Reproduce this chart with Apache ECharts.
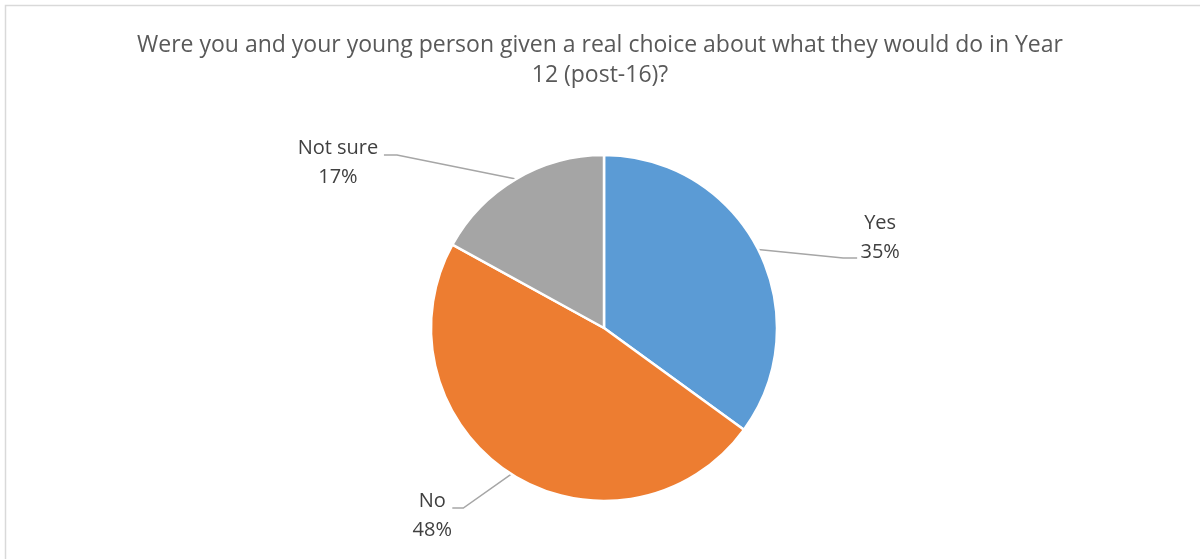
<!DOCTYPE html>
<html>
<head>
<meta charset="utf-8">
<script src="https://cdn.jsdelivr.net/npm/echarts@6/dist/echarts.min.js"></script>
<style>
  html, body { margin: 0; padding: 0; background: #ffffff; }
  #chart { width: 1200px; height: 559px; }
</style>
</head>
<body>
<div id="chart"></div>
<script>
// Survey answers, in drawing order (clockwise from 12 o'clock)
const categories = ['Yes', 'No', 'Not sure'];
const shares = [35, 48, 17];
const sliceColors = ['#5B9BD5', '#ED7D31', '#A5A5A5'];

const titleText = 'Were you and your young person given a real choice about what they would do in Year\n12 (post-16)?';

// Pie geometry
const pieCenter = [604, 328];
const pieRadius = 173;

// Label placement, relative to the outer mid-point of each slice:
// text = centre of the label block, line = the two leader-line bends
const labelOffsets = [
  { text: [122, -12],     line: [[85, 8.5], [99, 8.5]] },
  { text: [-79, 42],      line: [[-48, 34], [-59, 34]] },
  { text: [-178, -16],    line: [[-119, -24], [-132, -24]] }
];

const total = shares.reduce((s, v) => s + v, 0);

// outer mid-point of slice i (start at top, clockwise)
function sliceAnchor(i) {
  let before = 0;
  for (let k = 0; k < i; k++) before += shares[k];
  const mid = (before + shares[i] / 2) / total * Math.PI * 2;
  return [pieCenter[0] + pieRadius * Math.sin(mid), pieCenter[1] - pieRadius * Math.cos(mid)];
}

const chart = echarts.init(document.getElementById('chart'), null, { renderer: 'canvas' });

chart.setOption({
  backgroundColor: '#ffffff',
  animation: false,
  title: {
    text: titleText,
    left: 'center',
    top: 25,
    textStyle: {
      fontFamily: 'Open Sans',
      fontSize: 23,
      fontWeight: 'normal',
      color: '#595959',
      lineHeight: 30
    }
  },
  graphic: [{
    type: 'rect',
    silent: true,
    shape: { x: 5.5, y: 5.5, width: 1400, height: 800 },
    style: { fill: 'none', stroke: '#D9D9D9', lineWidth: 1.5 }
  }],
  series: [{
    type: 'pie',
    center: pieCenter,
    radius: pieRadius,
    startAngle: 90,
    clockwise: true,
    avoidLabelOverlap: false,
    data: categories.map((name, i) => ({
      name: name,
      value: shares[i],
      itemStyle: { color: sliceColors[i] }
    })),
    itemStyle: { borderColor: '#ffffff', borderWidth: 2.5 },
    emphasis: { disabled: true },
    label: {
      show: true,
      position: 'outside',
      formatter: p => p.name + '\n' + Math.round(p.percent) + '%',
      fontFamily: 'Open Sans',
      fontSize: 20,
      lineHeight: 29,
      color: '#404040',
      align: 'center'
    },
    labelLine: {
      show: true,
      length: 20,
      length2: 10,
      lineStyle: { color: '#A6A6A6', width: 1.5 }
    },
    labelLayout: function (params) {
      const i = params.dataIndex;
      const a = sliceAnchor(i);
      const o = labelOffsets[i];
      return {
        x: a[0] + o.text[0],
        y: a[1] + o.text[1],
        align: 'center',
        verticalAlign: 'middle',
        labelLinePoints: [
          a,
          [a[0] + o.line[0][0], a[1] + o.line[0][1]],
          [a[0] + o.line[1][0], a[1] + o.line[1][1]]
        ]
      };
    }
  }]
});
</script>
</body>
</html>
